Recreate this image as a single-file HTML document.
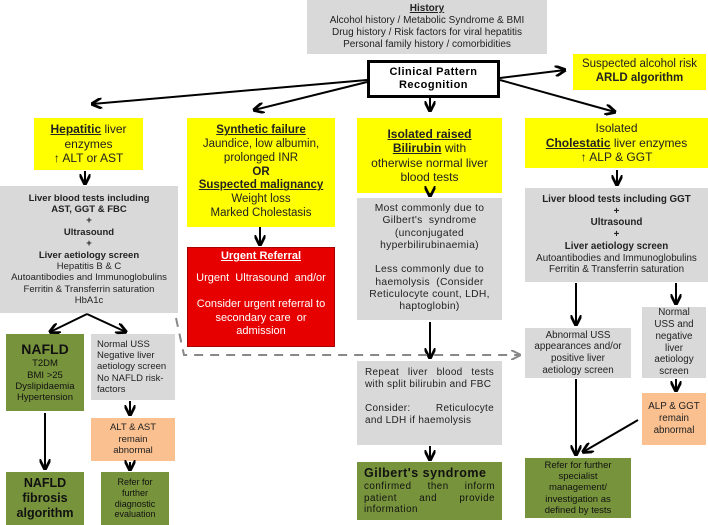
<!DOCTYPE html>
<html><head><style>
body{margin:0;width:708px;height:525px;position:relative;background:#fff;font-family:"Liberation Sans",sans-serif;overflow:hidden}
.b{position:absolute;box-sizing:border-box;text-align:center;display:flex;flex-direction:column;justify-content:center;line-height:1.2}
.g{background:#d9d9d9;color:#222}
.y{background:#ffff00;color:#222}
.gr{background:#77933c;color:#111}
.r{background:#e60000;color:#fff}
.p{background:#fac090;color:#222}
u{font-weight:bold}
svg{position:absolute;left:0;top:0}
</style></head><body>
<div class="b g" style="left:307px;top:0;width:240px;height:54px;font-size:10px"><u>History</u><div>Alcohol history / Metabolic Syndrome &amp; BMI</div><div>Drug history / Risk factors for viral hepatitis</div><div>Personal family history / comorbidities</div></div>
<div class="b" style="left:367px;top:60px;width:133px;height:38px;border:3px solid #000;font-weight:bold;font-size:11px;letter-spacing:0.5px">Clinical Pattern<br>Recognition</div>
<div class="b y" style="left:573px;top:54px;width:133px;height:36px;font-size:11.5px">Suspected alcohol risk<br><b>ARLD algorithm</b></div>
<div class="b y" style="left:34px;top:118px;width:109px;height:52px;font-size:12px"><div><u>Hepatitic</u> liver</div><div>enzymes</div><div>↑ ALT or AST</div></div>
<div class="b y" style="left:187px;top:118px;width:148px;height:109px;font-size:11.5px"><u>Synthetic failure</u><div>Jaundice, low albumin,</div><div>prolonged INR</div><b>OR</b><u>Suspected malignancy</u><div>Weight loss</div><div>Marked Cholestasis</div></div>
<div class="b y" style="left:357px;top:118px;width:145px;height:75px;font-size:12px"><u>Isolated raised</u><div><u>Bilirubin</u> with</div><div>otherwise normal liver</div><div>blood tests</div></div>
<div class="b y" style="left:525px;top:118px;width:183px;height:50px;font-size:12px"><div>Isolated</div><div><u>Cholestatic</u> liver enzymes</div><div>↑ ALP &amp; GGT</div></div>
<div class="b g" style="left:0;top:186px;width:178px;height:127px;font-size:9.5px"><b>Liver blood tests including</b><b>AST, GGT &amp; FBC</b><b>+</b><b>Ultrasound</b><b>+</b><b>Liver aetiology screen</b><div>Hepatitis B &amp; C</div><div>Autoantibodies and Immunoglobulins</div><div>Ferritin &amp; Transferrin saturation</div><div>HbA1c</div></div>
<div class="b r" style="left:187px;top:247px;width:148px;height:100px;font-size:11px;justify-content:flex-start;padding-top:2px;border:1px solid #a00"><u>Urgent Referral</u><div style="margin-top:9px">Urgent &nbsp;Ultrasound &nbsp;and/or</div><div style="margin-top:13px">Consider urgent referral to</div><div>secondary care &nbsp;or</div><div>admission</div></div>
<div class="b g" style="left:357px;top:198px;width:145px;height:122px;font-size:10.3px;letter-spacing:0.3px;justify-content:flex-start;padding-top:5px"><div>Most commonly due to</div><div>Gilbert's &nbsp;syndrome</div><div>(unconjugated</div><div>hyperbilirubinaemia)</div><div style="margin-top:12px">Less commonly due to</div><div>haemolysis &nbsp;(Consider</div><div>Reticulocyte count, LDH,</div><div>haptoglobin)</div></div>
<div class="b g" style="left:525px;top:188px;width:183px;height:94px;font-size:9.8px"><b>Liver blood tests including GGT</b><b>+</b><b>Ultrasound</b><b>+</b><b>Liver aetiology screen</b><div>Autoantibodies and Immunoglobulins</div><div>Ferritin &amp; Transferrin saturation</div></div>
<div class="b gr" style="left:6px;top:334px;width:78px;height:77px;font-size:9.5px"><b style="font-size:14px">NAFLD</b><div>T2DM</div><div>BMI &gt;25</div><div>Dyslipidaemia</div><div>Hypertension</div></div>
<div class="b g" style="left:91px;top:334px;width:84px;height:66px;font-size:9.5px;text-align:left;padding-left:6px"><div>Normal USS</div><div>Negative liver</div><div>aetiology screen</div><div>No NAFLD risk-</div><div>factors</div></div>
<div class="b p" style="left:91px;top:418px;width:84px;height:43px;font-size:9.5px"><div>ALT &amp; AST</div><div>remain</div><div>abnormal</div></div>
<div class="b gr" style="left:6px;top:472px;width:78px;height:53px;font-size:12.5px;font-weight:bold"><div>NAFLD</div><div>fibrosis</div><div>algorithm</div></div>
<div class="b gr" style="left:101px;top:472px;width:68px;height:53px;font-size:9px"><div>Refer for</div><div>further</div><div>diagnostic</div><div>evaluation</div></div>
<div class="b g" style="left:357px;top:361px;width:145px;height:84px;font-size:10px;letter-spacing:0.3px;text-align:justify;padding:0 8px;justify-content:flex-start;padding-top:6px"><div>Repeat liver blood tests with split bilirubin and FBC</div><div style="margin-top:12px">Consider: &nbsp;Reticulocyte and LDH if haemolysis</div></div>
<div class="b gr" style="left:357px;top:462px;width:145px;height:58px;font-size:9.8px;letter-spacing:0.5px;text-align:left;padding:0 7px"><b style="font-size:12.5px">Gilbert's syndrome</b><div style="text-align:justify">confirmed then inform patient and provide information</div></div>
<div class="b g" style="left:525px;top:328px;width:106px;height:50px;font-size:9.8px"><div>Abnormal USS</div><div>appearances and/or</div><div>positive liver</div><div>aetiology screen</div></div>
<div class="b g" style="left:642px;top:307px;width:64px;height:71px;font-size:9.8px"><div>Normal</div><div>USS and</div><div>negative</div><div>liver</div><div>aetiology</div><div>screen</div></div>
<div class="b p" style="left:642px;top:393px;width:64px;height:52px;font-size:9.8px"><div>ALP &amp; GGT</div><div>remain</div><div>abnormal</div></div>
<div class="b gr" style="left:525px;top:458px;width:106px;height:60px;font-size:9.5px"><div>Refer for further</div><div>specialist</div><div>management/</div><div>investigation as</div><div>defined by tests</div></div>
<svg width="708" height="525">
<defs><marker id="a" viewBox="0 0 10 10" refX="9" refY="5" markerWidth="5.5" markerHeight="5.5" orient="auto"><path d="M0,0 L10,5 L0,10" fill="none" stroke="#000" stroke-width="2.5"/></marker>
<marker id="d" viewBox="0 0 10 10" refX="9" refY="5" markerWidth="5" markerHeight="5" orient="auto"><path d="M0,0 L10,5 L0,10" fill="none" stroke="#888" stroke-width="2"/></marker></defs>
<g stroke="#000" stroke-width="2" fill="none" marker-end="url(#a)">
<line x1="367" y1="80" x2="92" y2="104"/>
<line x1="367" y1="82" x2="254" y2="110"/>
<line x1="430" y1="98" x2="430" y2="111"/>
<line x1="500" y1="78" x2="565" y2="70"/>
<line x1="500" y1="80" x2="615" y2="112"/>
<line x1="85" y1="171" x2="85" y2="184"/>
<line x1="260" y1="227" x2="260" y2="245"/>
<line x1="430" y1="193" x2="430" y2="196"/>
<line x1="617" y1="170" x2="617" y2="185"/>
<line x1="87" y1="314" x2="50" y2="332"/>
<line x1="87" y1="314" x2="126" y2="332"/>
<line x1="130" y1="401" x2="130" y2="415"/>
<line x1="130" y1="462" x2="130" y2="470"/>
<line x1="45" y1="413" x2="45" y2="469"/>
<line x1="430" y1="322" x2="430" y2="358"/>
<line x1="430" y1="446" x2="430" y2="460"/>
<line x1="576" y1="283" x2="576" y2="325"/>
<line x1="676" y1="283" x2="676" y2="304"/>
<line x1="676" y1="379" x2="676" y2="391"/>
<line x1="576" y1="379" x2="576" y2="455"/>
<line x1="638" y1="420" x2="583" y2="452"/>
</g>
<path d="M176,318 L184,355 L520,355" stroke="#888" stroke-width="2" stroke-dasharray="9,7" fill="none" marker-end="url(#d)"/>
</svg>
</body></html>
